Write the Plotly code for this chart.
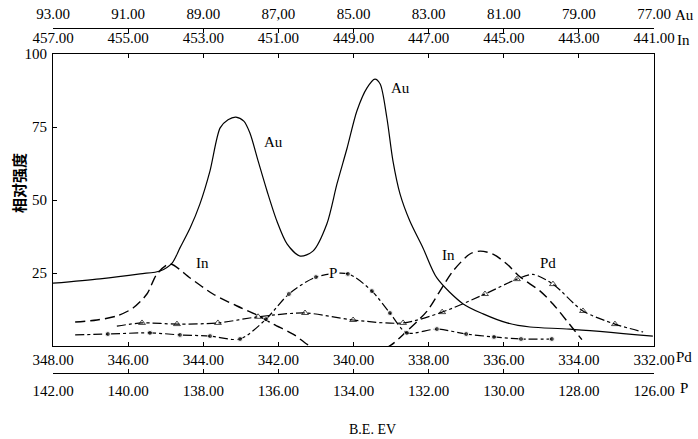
import plotly.graph_objects as go

# ---- data (x in Pd binding-energy units, y = relative intensity) ----
au_x = [348.00, 346.75, 345.68, 345.15, 344.83, 344.62, 344.35, 344.09, 343.82, 343.55,
        343.34, 343.13, 342.92, 342.76, 342.54, 342.30, 342.04, 341.77, 341.42, 341.08,
        340.71, 340.44, 340.17, 339.91, 339.64, 339.43, 339.29, 339.11, 338.95, 338.76,
        338.50, 338.15, 337.78, 337.08, 336.55, 335.91, 335.30, 334.24, 332.03]
au_y = [21.5, 23.0, 24.7, 25.7, 28.4, 33.6, 40.4, 48.6, 60.0, 74.7,
        77.5, 78.4, 77.0, 73.0, 63.4, 53.0, 42.8, 35.0, 30.8, 32.5,
        41.8, 55.5, 67.8, 80.5, 88.4, 91.4, 89.7, 78.0, 63.4, 52.0,
        42.8, 33.6, 23.3, 14.4, 11.0, 7.9, 6.5, 5.8, 3.4]

in_x = [347.41, 346.83, 346.30, 345.87, 345.50, 345.23, 344.89, 344.35, 343.74, 343.10,
        342.57, 342.14, 341.61, 341.08, 340.09, 339.11, 338.58, 338.04, 337.70, 337.35,
        336.90, 336.63, 336.29, 335.91, 335.57, 335.03, 334.69, 334.32, 333.92]
in_y = [8.2, 8.9, 10.3, 13.0, 17.8, 24.7, 28.1, 23.3, 17.8, 13.7,
        10.6, 7.5, 4.1, -0.5, -2.5, -0.5, 5.1, 12.0, 18.8, 25.7,
        31.5, 32.5, 31.5, 28.0, 23.7, 18.8, 14.4, 8.6, 2.2]

p_x = [347.41, 346.54, 345.42, 344.62, 343.82, 343.02, 342.33, 341.72, 341.00, 340.15,
       339.51, 339.03, 338.58, 337.78, 337.00, 336.26, 335.54, 334.72]
p_y = [3.8, 4.1, 4.5, 3.8, 3.4, 2.4, 9.2, 17.8, 23.6, 24.7,
       18.8, 11.3, 4.5, 5.8, 4.1, 3.1, 2.4, 2.4]

pd_x = [346.30, 345.63, 344.70, 343.61, 342.54, 341.29, 340.01, 338.68, 337.64, 336.50,
        335.65, 335.22, 334.69, 333.89, 333.04, 332.29]
pd_y = [6.8, 7.9, 7.5, 7.9, 10.0, 11.3, 8.9, 7.9, 11.6, 17.8,
        22.9, 24.5, 21.2, 12.0, 7.5, 4.8]

pd_ticks = [348, 346, 344, 342, 340, 338, 336, 334, 332]
p_ticks = [142, 140, 138, 136, 134, 132, 130, 128, 126]
in_ticks = [457, 455, 453, 451, 449, 447, 445, 443, 441]
au_ticks = [93, 91, 89, 87, 85, 83, 81, 79, 77]
au_ticktext = ["93.00", "91.00", "89.00", "87,00", "85.00", "83.00", "81.00", "79.00", "77.00"]
y_ticks = [25, 50, 75, 100]

# ---- figure geometry (pixels) ----
W, H = 698, 439
L, R = 53, 654          # plot left/right
PT, PB = 54, 346        # plot top/bottom
PAPER_T, PAPER_B = 28, 373


def px(x):
    return (x - L) / (R - L)


def py(y):
    return (PAPER_B - y) / (PAPER_B - PAPER_T)


SERIF = "Liberation Serif"
FONT = dict(family=SERIF, size=15, color="black")

fig = go.Figure()
fig.add_trace(go.Scatter(x=au_x, y=au_y, mode="lines",
                         line=dict(color="black", width=1.2, shape="spline", smoothing=0.8),
                         showlegend=False))
fig.add_trace(go.Scatter(x=in_x, y=in_y, mode="lines",
                         line=dict(color="black", width=1.4, dash="10px,5px", shape="spline", smoothing=0.8),
                         showlegend=False))
p_sizes = [0] + [5] * (len(p_x) - 1)
fig.add_trace(go.Scatter(x=p_x, y=p_y, mode="lines+markers",
                         line=dict(color="black", width=1.2, dash="dashdot", shape="spline", smoothing=0.8),
                         marker=dict(color="black", size=p_sizes, symbol="circle"),
                         showlegend=False))
pd_sizes = [0] + [6] * 10 + [0] + [6] * 3 + [0]
fig.add_trace(go.Scatter(x=pd_x, y=pd_y, mode="lines+markers",
                         line=dict(color="black", width=1.2, dash="dashdot", shape="spline", smoothing=0.8),
                         marker=dict(color="black", size=pd_sizes, symbol="triangle-up-open",
                                     line=dict(width=1)),
                         showlegend=False))

ydom = [py(PB), py(PT)]
axis_common = dict(showgrid=False, zeroline=False, showline=True, linecolor="black",
                   linewidth=1.2, ticks="inside", tickcolor="black", ticklen=4,
                   tickfont=FONT)

fig.update_layout(
    width=W, height=H,
    margin=dict(l=L, r=W - R, t=PAPER_T, b=H - PAPER_B, autoexpand=False),
    paper_bgcolor="white", plot_bgcolor="white",
    xaxis=dict(range=[348, 332], tickvals=pd_ticks,
               ticktext=[f"{v:.2f}" for v in pd_ticks], side="bottom", anchor="y",
               **axis_common),
    xaxis2=dict(range=[457, 441], tickvals=in_ticks,
                ticktext=[f"{v:.2f}" for v in in_ticks], overlaying="x", side="top",
                anchor="y", ticklabelstandoff=4, **axis_common),
    xaxis3=dict(range=[93, 77], tickvals=au_ticks, ticktext=au_ticktext,
                overlaying="x", side="top", anchor="free", position=1,
                ticklabelstandoff=3, **axis_common),
    xaxis4=dict(range=[142, 126], tickvals=p_ticks,
                ticktext=[f"{v:.2f}" for v in p_ticks], overlaying="x", side="bottom",
                anchor="free", position=0, ticklabelstandoff=4, **axis_common),
    yaxis=dict(range=[0, 100], domain=ydom, tickvals=y_ticks,
               ticktext=[str(v) for v in y_ticks], mirror=True, ticklabelstandoff=2,
               **axis_common),
)

# dummy traces to activate the extra x axes
fig.add_trace(go.Scatter(x=[449], y=[-10], xaxis="x2", mode="markers",
                         marker=dict(size=0, opacity=0), showlegend=False, hoverinfo="skip"))
fig.add_trace(go.Scatter(x=[85], y=[-10], xaxis="x3", mode="markers",
                         marker=dict(size=0, opacity=0), showlegend=False, hoverinfo="skip"))
fig.add_trace(go.Scatter(x=[134], y=[-10], xaxis="x4", mode="markers",
                         marker=dict(size=0, opacity=0), showlegend=False, hoverinfo="skip"))

annos = [
    ("Au", 684, 15), ("In", 683, 40), ("Pd", 684, 357), ("P", 684, 388),
    ("Au", 273, 142), ("Au", 400, 88), ("In", 202, 263), ("In", 448, 255),
    ("Pd", 548, 263),
]
for text, x, y in annos:
    fig.add_annotation(text=text, x=px(x), y=py(y), xref="paper", yref="paper",
                       showarrow=False, font=FONT, xanchor="center", yanchor="middle")
fig.add_annotation(text="P", x=px(333), y=py(273), xref="paper", yref="paper",
                   showarrow=False, font=FONT, bgcolor="white", borderpad=0,
                   xanchor="center", yanchor="middle")
fig.add_annotation(text="B.E. EV", x=px(372), y=py(429), xref="paper", yref="paper",
                   showarrow=False, font=dict(family=SERIF, size=14, color="black"),
                   xanchor="center", yanchor="middle")
fig.add_annotation(text="<b>相对强度</b>", x=px(18), y=py(183), xref="paper", yref="paper",
                   showarrow=False, textangle=-90,
                   font=dict(family="Noto Sans CJK SC", size=15, color="black"),
                   xanchor="center", yanchor="middle")

fig.write_html("out.html", config={"displayModeBar": False},
               post_script="document.body.style.margin='0px';document.body.style.overflow='hidden';")
